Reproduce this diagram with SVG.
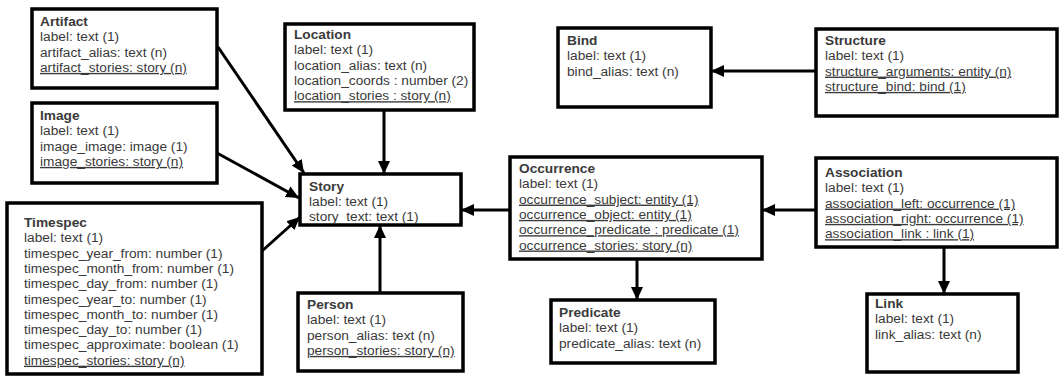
<svg xmlns="http://www.w3.org/2000/svg" width="1060" height="376" viewBox="0 0 1060 376">
<style>
.box{fill:#fff;stroke:#000;stroke-width:3.5}
text{font-family:"Liberation Sans",Arial,sans-serif;font-size:13.7px;fill:#3a3a3a}
.t{font-weight:bold}
.u{text-decoration:underline}
.c{stroke:#000;stroke-width:3;fill:none;marker-end:url(#ah)}
</style>
<defs>
<marker id="ah" markerUnits="userSpaceOnUse" markerWidth="14" markerHeight="12" refX="13" refY="6" orient="auto">
<path d="M0,0 L13,6 L0,12 Z" fill="#000"/>
</marker>
</defs>
<g id="connectors">
<line class="c" x1="218" y1="47" x2="304" y2="173"/>
<line class="c" x1="217" y1="153" x2="299" y2="198"/>
<line class="c" x1="262" y1="251" x2="300" y2="217"/>
<line class="c" x1="384" y1="110" x2="384" y2="174"/>
<line class="c" x1="380" y1="293" x2="380" y2="225"/>
<line class="c" x1="510" y1="210" x2="461" y2="210"/>
<line class="c" x1="816" y1="210" x2="762" y2="210"/>
<line class="c" x1="816" y1="71" x2="711" y2="71"/>
<line class="c" x1="637" y1="259" x2="637" y2="300"/>
<line class="c" x1="944" y1="247" x2="944" y2="294"/>
</g>
<g id="artifact">
<rect class="box" x="32" y="9" width="185" height="79"/>
<text x="40" y="26"><tspan class="t">Artifact</tspan><tspan x="40" dy="15.3">label: text (1)</tspan><tspan x="40" dy="15.3">artifact_alias: text (n)</tspan><tspan x="40" dy="15.3" class="u">artifact_stories: story (n)</tspan></text>
</g>
<g id="image">
<rect class="box" x="32" y="103" width="185" height="80"/>
<text x="40" y="120"><tspan class="t">Image</tspan><tspan x="40" dy="15.3">label: text (1)</tspan><tspan x="40" dy="15.3">image_image: image (1)</tspan><tspan x="40" dy="15.3" class="u">image_stories: story (n)</tspan></text>
</g>
<g id="timespec">
<rect class="box" x="7" y="203" width="255" height="171"/>
<text x="24" y="227"><tspan class="t">Timespec</tspan><tspan x="24" dy="15.3">label: text (1)</tspan><tspan x="24" dy="15.3">timespec_year_from: number (1)</tspan><tspan x="24" dy="15.3">timespec_month_from: number (1)</tspan><tspan x="24" dy="15.3">timespec_day_from: number (1)</tspan><tspan x="24" dy="15.3">timespec_year_to: number (1)</tspan><tspan x="24" dy="15.3">timespec_month_to: number (1)</tspan><tspan x="24" dy="15.3">timespec_day_to: number (1)</tspan><tspan x="24" dy="15.3">timespec_approximate: boolean (1)</tspan><tspan x="24" dy="15.3" class="u">timespec_stories: story (n)</tspan></text>
</g>
<g id="location">
<rect class="box" x="285" y="24" width="189" height="86"/>
<text x="294" y="39"><tspan class="t">Location</tspan><tspan x="294" dy="15.3">label: text (1)</tspan><tspan x="294" dy="15.3">location_alias: text (n)</tspan><tspan x="294" dy="15.3">location_coords : number (2)</tspan><tspan x="294" dy="15.3" class="u">location_stories : story (n)</tspan></text>
</g>
<g id="story">
<rect class="box" x="300" y="174" width="161" height="51"/>
<text x="309" y="191"><tspan class="t">Story</tspan><tspan x="309" dy="15">label: text (1)</tspan><tspan x="309" dy="15">story_text: text (1)</tspan></text>
</g>
<g id="person">
<rect class="box" x="298" y="293" width="165" height="78"/>
<text x="307" y="309"><tspan class="t">Person</tspan><tspan x="307" dy="15.3">label: text (1)</tspan><tspan x="307" dy="15.3">person_alias: text (n)</tspan><tspan x="307" dy="15.3" class="u">person_stories: story (n)</tspan></text>
</g>
<g id="bind">
<rect class="box" x="558" y="28" width="153" height="79"/>
<text x="567" y="45"><tspan class="t">Bind</tspan><tspan x="567" dy="15.3">label: text (1)</tspan><tspan x="567" dy="15.3">bind_alias: text (n)</tspan></text>
</g>
<g id="structure">
<rect class="box" x="816" y="29" width="241" height="87"/>
<text x="825" y="45"><tspan class="t">Structure</tspan><tspan x="825" dy="15.3">label: text (1)</tspan><tspan x="825" dy="15.3" class="u">structure_arguments: entity (n)</tspan><tspan x="825" dy="15.3" class="u">structure_bind: bind (1)</tspan></text>
</g>
<g id="occurrence">
<rect class="box" x="510" y="157" width="252" height="102"/>
<text x="519" y="173"><tspan class="t">Occurrence</tspan><tspan x="519" dy="15.3">label: text (1)</tspan><tspan x="519" dy="15.3" class="u">occurrence_subject: entity (1)</tspan><tspan x="519" dy="15.3" class="u">occurrence_object: entity (1)</tspan><tspan x="519" dy="15.3" class="u">occurrence_predicate : predicate (1)</tspan><tspan x="519" dy="15.3" class="u">occurrence_stories: story (n)</tspan></text>
</g>
<g id="association">
<rect class="box" x="816" y="158" width="241" height="89"/>
<text x="825" y="177"><tspan class="t">Association</tspan><tspan x="825" dy="15.3">label: text (1)</tspan><tspan x="825" dy="15.3" class="u">association_left: occurrence (1)</tspan><tspan x="825" dy="15.3" class="u">association_right: occurrence (1)</tspan><tspan x="825" dy="15.3" class="u">association_link : link (1)</tspan></text>
</g>
<g id="predicate">
<rect class="box" x="551" y="300" width="164" height="63"/>
<text x="559" y="317"><tspan class="t">Predicate</tspan><tspan x="559" dy="15.3">label: text (1)</tspan><tspan x="559" dy="15.3">predicate_alias: text (n)</tspan></text>
</g>
<g id="link">
<rect class="box" x="867" y="294" width="151" height="78"/>
<text x="875" y="308"><tspan class="t">Link</tspan><tspan x="875" dy="15.3">label: text (1)</tspan><tspan x="875" dy="15.3">link_alias: text (n)</tspan></text>
</g>
</svg>
